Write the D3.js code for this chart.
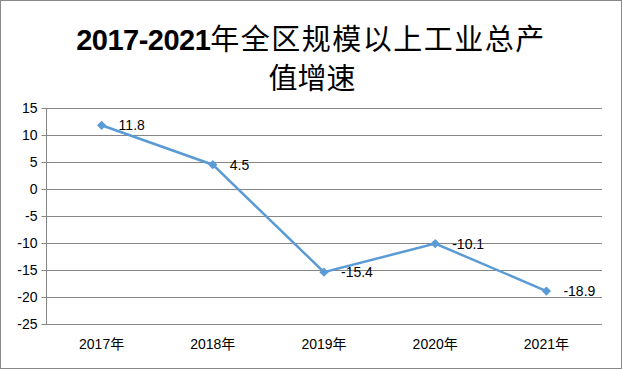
<!DOCTYPE html>
<html><head><meta charset="utf-8">
<script src="https://cdn.jsdelivr.net/npm/d3@7"></script>
<style>body{margin:0;background:#fff}svg{display:block}</style>
</head><body><svg id="c" width="622" height="369"></svg>
<script>
const titleNum = "2017-2021";
const titleRest = "年全区规模以上工业总产";
const titleLine2 = "值增速";
const categories = ["2017年", "2018年", "2019年", "2020年", "2021年"];
const values = [11.8, 4.5, -15.4, -10.1, -18.9];
const yTicks = [15, 10, 5, 0, -5, -10, -15, -20, -25];

const svg = d3.select("#c");
const W = 622, H = 369;
const m = {left: 46, right: 602, top: 108, bottom: 324};

svg.append("rect").attr("x", 0.5).attr("y", 0.5).attr("width", W - 1).attr("height", H - 1)
  .attr("fill", "#fff").attr("stroke", "#888");

const font = "'Liberation Sans', 'Noto Sans CJK SC', sans-serif";

const x = d3.scaleBand().domain(categories).range([m.left, m.right]);
const y = d3.scaleLinear().domain([-25, 15]).range([m.bottom, m.top]);

// gridlines
svg.append("g").selectAll("line").data(yTicks).join("line")
  .attr("x1", m.left).attr("x2", m.right)
  .attr("y1", d => Math.round(y(d)) + 0.5).attr("y2", d => Math.round(y(d)) + 0.5)
  .attr("stroke", "#868686").attr("stroke-width", 1);

// y axis
const ya = svg.append("g").attr("transform", `translate(${m.left + 0.5},0)`)
  .call(d3.axisLeft(y).tickValues(yTicks).tickSize(5).tickPadding(4).tickFormat(d => String(d)));
ya.select(".domain").attr("stroke", "#868686").attr("d", `M0,${m.top}V${m.bottom}`);
ya.selectAll(".tick line").attr("stroke", "#868686");
ya.selectAll(".tick text").attr("font-family", font).attr("font-size", 14).attr("fill", "#000");
ya.selectAll(".tick").attr("transform", d => `translate(0,${Math.round(y(d)) + 0.5})`);

// x axis labels
const xa = svg.append("g").attr("transform", `translate(0,${m.bottom + 0.5})`)
  .call(d3.axisBottom(x).tickSize(0).tickPadding(15));
xa.select(".domain").remove();
xa.selectAll(".tick text").attr("font-family", font).attr("font-size", 14).attr("fill", "#000");

// line
const cx = d => x(d.c) + x.bandwidth() / 2;
const pts = categories.map((c, i) => ({c, v: values[i]}));
svg.append("path").datum(pts)
  .attr("d", d3.line().x(cx).y(d => y(d.v)))
  .attr("fill", "none").attr("stroke", "#5b9bd5").attr("stroke-width", 2.5);

svg.append("g").selectAll("path").data(pts).join("path")
  .attr("d", d3.symbol().type(d3.symbolDiamond2).size(55))
  .attr("transform", d => `translate(${cx(d)},${y(d.v)})`)
  .attr("fill", "#5b9bd5");

svg.append("g").selectAll("text").data(pts).join("text")
  .attr("x", d => cx(d) + 17).attr("y", d => y(d.v) + 5)
  .attr("font-family", font).attr("font-size", 14).attr("fill", "#000")
  .text(d => String(d.v));

// title
const t = svg.append("text").attr("text-anchor", "middle").attr("x", 311).attr("y", 50)
  .attr("font-family", "'Liberation Sans', 'Noto Sans CJK SC', sans-serif")
  .attr("font-size", 29).attr("fill", "#000");
t.append("tspan").attr("font-weight", "bold").attr("letter-spacing", -0.5).text(titleNum);
t.append("tspan").attr("font-weight", 400).attr("letter-spacing", 1.5).text(titleRest);
svg.append("text").attr("text-anchor", "middle").attr("x", 312).attr("y", 89)
  .attr("font-family", "'Noto Sans CJK SC', sans-serif").attr("font-weight", 400)
  .attr("font-size", 29).attr("fill", "#000").text(titleLine2);
</script></body></html>
